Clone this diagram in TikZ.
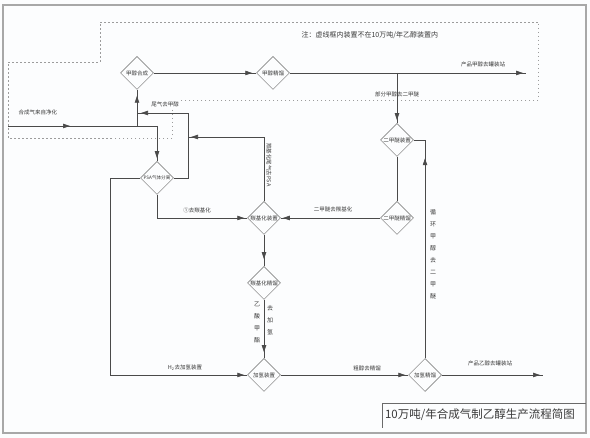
\documentclass[tikz,border=0pt]{standalone}
\usepackage{fontspec}
\newfontfamily\cjk{Noto Sans CJK SC}
\usetikzlibrary{positioning, arrows.meta, shapes.geometric, decorations.markings}
\definecolor{clrline}{HTML}{4A4A4A}
\definecolor{clrborder}{HTML}{6A6A6A}
\definecolor{clrdash}{HTML}{9C9C9C}
\definecolor{clrframe}{HTML}{A8A8A8}
\definecolor{clrtext}{HTML}{3A3A3A}
\definecolor{clrpaper}{HTML}{FCFDFE}

\begin{document}
\begin{tikzpicture}[
    x=1pt, y=-1pt,
    every node/.style={font=\cjk\fontsize{5.5}{6}\selectfont, text=clrtext},
    unit/.style={draw=clrborder, shape=diamond, aspect=1, minimum width=33pt,
                 minimum height=33pt, inner sep=0pt, line width=0.5pt},
    flow/.style={draw=clrline, line width=0.6pt},
    tipat/.style={postaction={decorate}, decoration={markings,
                  mark=at position #1 with {\arrow{Triangle[length=7pt,width=4.5pt]}}}},
    label/.style={font=\cjk\fontsize{5.5}{6}\selectfont, text=clrtext, inner sep=1pt},
    stack/.style={font=\cjk\fontsize{6}{12}\selectfont, text=clrtext, align=center, inner sep=0pt},
    note/.style={font=\cjk\fontsize{7}{8}\selectfont, text=clrtext},
]
\fill[clrpaper] (0,0) rectangle (590,438);
\useasboundingbox (0,0) rectangle (590,438);
\draw[clrframe, line width=1.2pt] (3,5) rectangle (586,433);
% area outside the ethanol plant
\draw[clrdash, line width=0.6pt, dash pattern=on 1.5pt off 2.5pt]
    (100,22) -- (538,22) -- (538,100) -- (172,100) -- (172,138) -- (8,138) -- (8,62) -- (100,62) -- cycle;
\node[note, anchor=west] (n_0) at (298,35) {注：虚线框内装置不在10万吨/年乙醇装置内};

% units
\node[unit] (n_1) at (137,73) {甲醇合成};
\node[unit] (n_2) at (273,73) {甲醇精馏};
\node[unit] (n_3) at (397,140) {二甲醚装置};
\node[unit, font=\cjk\fontsize{4.6}{5}\selectfont] (n_4) at (157,178) {PSA气体分离};
\node[unit] (n_5) at (264,218) {羰基化装置};
\node[unit] (n_6) at (397,218) {二甲醚精馏};
\node[unit] (n_7) at (264,283) {羰基化精馏};
\node[unit] (n_8) at (264,375) {加氢装置};
\node[unit] (n_9) at (425,375) {加氢精馏};

% free ends and bends
\coordinate (p_in) at (8,126);
\coordinate (p_gas) at (157,126);
\coordinate (p_split) at (137,126);
\coordinate (p_tail) at (188,113);
\coordinate (p_back) at (188,137);
\coordinate (p_h2) at (110,375);
\coordinate (p_meoh) at (526,73);
\coordinate (p_etoh) at (543,375);

\draw[flow, tipat=62pt] (p_in) -- (p_gas);
\draw[flow, tipat=-3pt] (p_gas) -- (n_4.north);
\draw[flow, tipat=-6pt] (p_split) -- (n_1.south);
\draw[flow, tipat=-4pt] (n_4.east) -| (p_tail) -- (n_1.south |- p_tail);
\draw[flow, tipat=-3pt] (n_5.north) |- (p_back);
\draw[flow, tipat=-4pt] (n_1.east) -- (n_2.west);
\draw[flow, tipat=-3pt] (n_2.east) -- (p_meoh);
\draw[flow, tipat=-3pt] (n_3.north |- n_2) -- (n_3.north);
\draw[flow] (n_3.south) -- (n_6.north);
\draw[flow, tipat=-2pt] (n_6.west) -- (n_5.east);
\draw[flow, tipat=-3pt] (n_4.south) |- (n_5.west);
\draw[flow, tipat=-3pt] (n_4.west) -| (p_h2) -- (n_8.west);
\draw[flow, tipat=-7pt] (n_5.south) -- (n_7.north);
\draw[flow, tipat=-6pt] (n_7.south) -- (n_8.north);
\draw[flow, tipat=-3pt] (n_8.east) -- (n_9.west);
\draw[flow, tipat=-3pt] (n_9.east) -- (p_etoh);
\draw[flow, tipat=200pt] (n_9.north) -- (n_9.north |- n_3) -- (n_3.east);

% stream labels
\node[label] (l_1) at (38,112) {合成气来自净化};
\node[label, fill=clrpaper] (l_2) at (165,104) {尾气去甲醇};
\node[label] (l_3) at (483,64) {产品甲醇去罐装站};
\node[label] (l_4) at (397,94) {部分甲醇去二甲醚};
\node[label] (l_5) at (197,210) {①去羰基化};
\node[label] (l_6) at (333,209) {二甲醚去羰基化};
\node[label, rotate=-90] (l_7) at (269,165) {羰基化尾气去PSA};
\node[stack] (l_8) at (433,254) {循\\环\\甲\\醇\\去\\二\\甲\\醚};
\node[stack] (l_9) at (257,322) {乙\\酸\\甲\\酯};
\node[stack] (l_10) at (270,320) {去\\加\\氢};
\node[label] (l_11) at (185,368) {H\textsubscript{2}去加氢装置};
\node[label] (l_12) at (367,368) {粗醇去精馏};
\node[label] (l_13) at (490,363) {产品乙醇去罐装站};

% title
\draw[clrborder, line width=0.5pt] (382,428) -- (382,403) -- (586,403);
\node[font=\cjk\fontsize{11.5}{13}\selectfont, text=clrtext] (n_10) at (480,415) {10万吨/年合成气制乙醇生产流程简图};
\end{tikzpicture}
\end{document}
